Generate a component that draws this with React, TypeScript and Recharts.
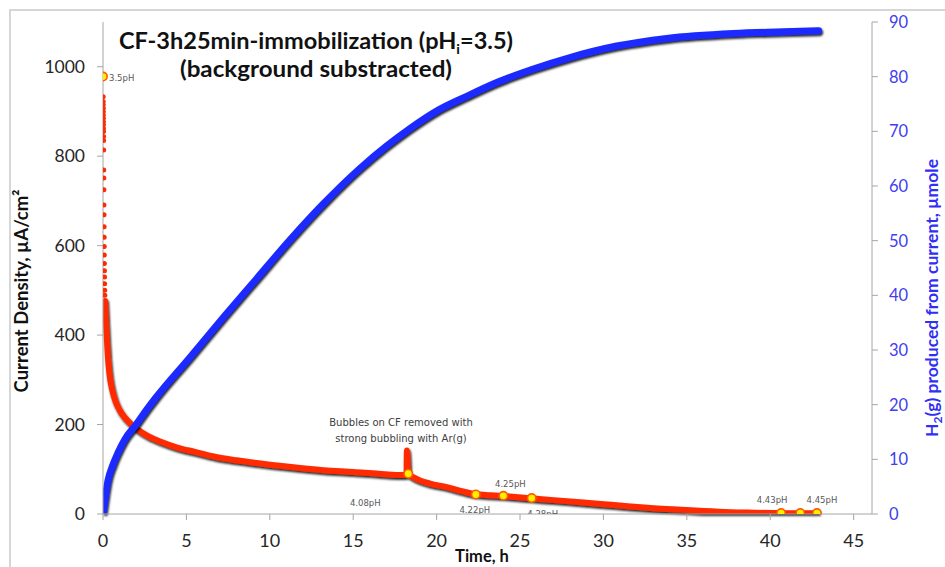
import React from 'react';
import { ComposedChart, Line, Scatter, XAxis, YAxis } from 'recharts';

// ---------- data ----------
const redEarlyTime = [0.01, 0.012, 0.014, 0.016, 0.018, 0.02, 0.022, 0.024, 0.026, 0.028, 0.03, 0.033, 0.036, 0.04, 0.046, 0.05, 0.054, 0.058, 0.062, 0.066, 0.07, 0.074, 0.078, 0.082, 0.087, 0.092, 0.097, 0.103, 0.11];
const redEarlyCurrent = [933, 922, 915, 907, 900, 892, 885, 877, 870, 862, 855, 844, 835, 814, 769, 751, 725, 691, 669, 642, 619, 598, 579, 560, 544, 530, 515, 500, 489];

const redTime = [0.12, 0.16, 0.22, 0.3, 0.4, 0.55, 0.75, 1.0, 1.3, 1.65, 2.1, 2.7, 3.5, 4.5, 5.5, 6.7, 8.0, 9.2, 11.0, 13.2, 15.0, 16.5, 18.1, 18.2, 18.22, 18.26, 18.3, 18.6, 19.0, 19.6, 20.6, 21.5, 22.35, 23.2, 24.0, 25.7, 27.0, 28.6, 30.0, 31.6, 33.0, 34.6, 36.0, 37.6, 39.0, 40.65, 41.8, 42.8];
const redCurrent = [476, 445, 400, 350, 310, 278, 252, 232, 216, 202, 188, 174, 161, 148, 139, 128, 120, 114, 106, 98, 94, 90, 87, 88, 142, 120, 91, 82, 75, 68, 60, 51, 44, 42, 40, 35, 31, 26.5, 22, 17, 13, 9.5, 6.5, 4, 3, 2, 1.5, 1.5];

const h2Time = [0, 0.1, 0.3, 0.6, 0.9, 1.3, 2.0, 2.7, 3.2, 5.2, 7.2, 9.2, 11.2, 13.2, 15.4, 17.0, 18.4, 20.0, 21.8, 23.5, 25.8, 28.0, 30.8, 33.8, 37.8, 40.8, 42.9];
const h2Umol = [0, 2.2, 6.1, 9.0, 11.2, 13.6, 16.4, 19.4, 21.4, 28.6, 35.9, 43.0, 50.1, 56.7, 63.2, 67.3, 70.5, 73.7, 76.4, 78.8, 81.4, 83.5, 85.6, 87.0, 87.9, 88.2, 88.4];

const phTime = [0, 18.3, 22.35, 24.0, 25.7, 40.65, 41.8, 42.8];
const phCurrent = [978, 90, 43.6, 40.7, 35.5, 2, 2, 2];
const phLabels = ['3.5pH', '4.08pH', '4.22pH', '4.25pH', '4.28pH', '4.43pH', '4.44pH', '4.45pH'];

const xTicks = [0, 5, 10, 15, 20, 25, 30, 35, 40, 45];
const leftTicks = [0, 200, 400, 600, 800, 1000];
const rightTicks = [0, 10, 20, 30, 40, 50, 60, 70, 80, 90];

// ---------- rows for the library ----------
const redEarlyRows = redEarlyTime.map((t, i) => ({ t, v: redEarlyCurrent[i] }));
const redRows = redTime.map((t, i) => ({ t, v: redCurrent[i] }));
const h2Rows = h2Time.map((t, i) => ({ t, h: h2Umol[i] }));
const phRows = phTime.map((t, i) => ({ t, v: phCurrent[i], label: phLabels[i] }));

// label placement (style only)
const phLabelPlace: Record<string, { dx: number; dy: number; anchor: string }> = {
  '3.5pH': { dx: 6, dy: 1, anchor: 'start' },
  '4.08pH': { dx: -43, dy: 29, anchor: 'middle' },
  '4.22pH': { dx: -1, dy: 16, anchor: 'middle' },
  '4.25pH': { dx: 7, dy: -12, anchor: 'middle' },
  '4.28pH': { dx: 11, dy: 16, anchor: 'middle' },
  '4.43pH': { dx: -9, dy: -13, anchor: 'middle' },
  '4.44pH': { dx: 4, dy: 20, anchor: 'middle' },
  '4.45pH': { dx: 5, dy: -13, anchor: 'middle' },
};

const RED = '#ff2a00';
const BLUE = '#1a2cff';
const AXIS = '#a6a6a6';
const FONT = 'Lato, "Open Sans", sans-serif';

const EarlyDot = (p: any) => (
  <circle cx={p.cx} cy={p.cy} r={2.5} fill={RED} />
);

const PhMarker = (p: any) => {
  const place = phLabelPlace[p.payload.label] || { dx: 0, dy: -12, anchor: 'middle' };
  return (
    <g>
      <circle cx={p.cx} cy={p.cy} r={4.2} fill="#ffee00" stroke="#ff5a00" strokeWidth={1.6} />
      <text
        x={p.cx + place.dx}
        y={p.cy + place.dy}
        textAnchor={place.anchor}
        dominantBaseline="central"
        fontSize={8.5}
        fontFamily='"DejaVu Sans", Verdana, sans-serif'
        fill="#595959"
      >
        {p.payload.label}
      </text>
    </g>
  );
};

export default function App() {
  return (
    <div style={{ position: 'absolute', left: 0, top: 0, width: 945, height: 567, overflow: 'hidden', background: '#fff' }}>
      <style>{`.shadowed { filter: url(#dropShadow); }`}</style>
      <div style={{ position: 'absolute', left: 9, top: 9, width: 1200, height: 1200, borderTop: '2px solid #d6d6d6', borderLeft: '2px solid #d6d6d6' }} />
      <svg width={0} height={0} style={{ position: 'absolute' }}>
        <defs>
          <filter id="dropShadow" filterUnits="userSpaceOnUse" x={0} y={0} width={945} height={567}>
            <feDropShadow dx={1} dy={1.8} stdDeviation={0.8} floodColor="#000" floodOpacity={0.9} />
          </filter>
        </defs>
      </svg>
      <div style={{ position: 'absolute', left: 0, top: 0 }}>
        <ComposedChart width={945} height={567} margin={{ top: 22, right: 0, bottom: 0, left: 0 }}>
          <XAxis
            xAxisId="x"
            type="number"
            dataKey="t"
            domain={[0, 46.1]}
            ticks={xTicks}
            allowDataOverflow
            height={53}
            tickSize={6}
            tickMargin={14}
            axisLine={{ stroke: AXIS }}
            tickLine={{ stroke: AXIS }}
            tick={{ fontSize: 18, fill: '#262626', fontFamily: FONT }}
          />
          <YAxis
            yAxisId="cur"
            orientation="left"
            type="number"
            domain={[0, 1100]}
            ticks={leftTicks}
            allowDataOverflow
            width={103}
            tickSize={6}
            tickMargin={12}
            axisLine={{ stroke: AXIS }}
            tickLine={{ stroke: AXIS }}
            tick={{ fontSize: 17.5, fill: '#262626', fontFamily: FONT }}
          />
          <YAxis
            yAxisId="h2"
            orientation="right"
            type="number"
            domain={[0, 90]}
            ticks={rightTicks}
            allowDataOverflow
            width={73}
            tickSize={6}
            tickMargin={11}
            axisLine={{ stroke: AXIS }}
            tickLine={{ stroke: AXIS }}
            tick={{ fontSize: 16.5, fill: '#4040f0', fontFamily: FONT }}
          />
          <Line
            className="shadowed"
            xAxisId="x"
            yAxisId="cur"
            data={redRows}
            dataKey="v"
            type="monotone"
            stroke={RED}
            strokeWidth={6}
            strokeLinecap="round"
            dot={false}
            activeDot={false}
            isAnimationActive={false}
          />
          <Scatter
            xAxisId="x"
            yAxisId="cur"
            data={redEarlyRows}
            dataKey="v"
            shape={EarlyDot}
            isAnimationActive={false}
          />
          <Line
            className="shadowed"
            xAxisId="x"
            yAxisId="h2"
            data={h2Rows}
            dataKey="h"
            type="monotone"
            stroke={BLUE}
            strokeWidth={7}
            strokeLinecap="round"
            dot={false}
            activeDot={false}
            isAnimationActive={false}
          />
          <Scatter
            xAxisId="x"
            yAxisId="cur"
            data={phRows}
            dataKey="v"
            shape={PhMarker}
            isAnimationActive={false}
          />
        </ComposedChart>
      </div>
      <svg width={945} height={567} style={{ position: 'absolute', left: 0, top: 0, pointerEvents: 'none' }}>
        <text x={316} y={49} textAnchor="middle" fontFamily={FONT} fontWeight={700} fontSize={23} fill="#111" textLength={394} lengthAdjust="spacingAndGlyphs">
          CF-3h25min-immobilization (pH<tspan fontSize={14} dy={5}>i</tspan><tspan dy={-5}>=3.5)</tspan>
        </text>
        <text x={316} y={77} textAnchor="middle" fontFamily={FONT} fontWeight={700} fontSize={23} fill="#111" textLength={272} lengthAdjust="spacingAndGlyphs">
          (background substracted)
        </text>
        <text x={401} y={426} textAnchor="middle" fontFamily='"DejaVu Sans", Verdana, sans-serif' fontSize={10} fill="#404040">
          Bubbles on CF removed with
        </text>
        <text x={401} y={442} textAnchor="middle" fontFamily='"DejaVu Sans", Verdana, sans-serif' fontSize={10} fill="#404040">
          strong bubbling with Ar(g)
        </text>
        <text x={482} y={562} textAnchor="middle" fontFamily={FONT} fontWeight={700} fontSize={16.5} fill="#111">
          Time, h
        </text>
        <text transform="translate(28,291) rotate(-90)" textAnchor="middle" fontFamily={FONT} fontWeight={700} fontSize={18.5} fill="#111">
          Current Density, µA/cm²
        </text>
        <text transform="translate(938,298) rotate(-90)" textAnchor="middle" fontFamily={FONT} fontWeight={700} fontSize={17.5} fill="#2f2ff5">
          H<tspan fontSize={12} dy={3.5}>2</tspan><tspan dy={-3.5}>(g) produced from current, µmole</tspan>
        </text>
      </svg>
    </div>
  );
}
